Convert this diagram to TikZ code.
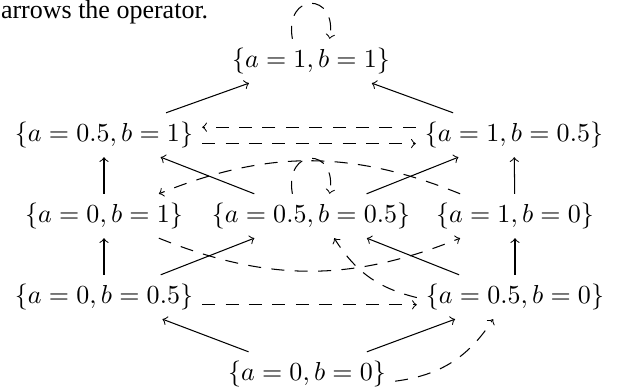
\documentclass[tikz,border=0pt]{standalone}
\usepackage{fontspec}
\newfontfamily\capfont{Liberation Serif}
\begin{document}
\begin{tikzpicture}[x=0.3846pt,y=0.3846pt,
  hasse/.style={->},
  op/.style={->,dash pattern=on 5pt off 4pt},
  selfloop/.style={op,out=100,in=80,looseness=3.3}]
\useasboundingbox (0,0) rectangle (625,390);
\node[anchor=base west,font=\capfont,inner sep=0pt] (cap) at (0.5,371) {arrows the operator.};
\node (n11) at (311,329) {$\{a=1,b=1\}$};
\node (n51) at (104,255) {$\{a=0.5,b=1\}$};
\node (n15) at (514,255) {$\{a=1,b=0.5\}$};
\node (n01) at (104,174) {$\{a=0,b=1\}$};
\node (n55) at (311,174) {$\{a=0.5,b=0.5\}$};
\node (n10) at (515,174) {$\{a=1,b=0\}$};
\node (n05) at (104,93) {$\{a=0,b=0.5\}$};
\node (n50) at (515,93) {$\{a=0.5,b=0\}$};
\node (n00) at (307,16) {$\{a=0,b=0\}$};
% order edges
\draw[hasse] (n51) -- (n11);
\draw[hasse] (n15) -- (n11);
\draw[hasse] (n01) -- (n51);
\draw[hasse] (n55) -- (n51);
\draw[hasse] (n55) -- (n15);
\draw[hasse] (n10) -- (n15);
\draw[hasse] (n05) -- (n01);
\draw[hasse] (n05) -- (n55);
\draw[hasse] (n50) -- (n55);
\draw[hasse] (n50) -- (n10);
\draw[hasse] (n00) -- (n05);
\draw[hasse] (n00) -- (n50);
% operator
\draw[selfloop] (n11.130) to (n11.50);
\draw[selfloop] (n55.130) to (n55.50);
\draw[op] ([yshift=3pt]n15.west) -- ([yshift=3pt]n51.east);
\draw[op] ([yshift=-3.3pt]n51.east) -- ([yshift=-3.3pt]n15.west);
\draw[op] ([yshift=-3pt]n05.east) -- ([yshift=-3pt]n50.west);
\draw[op] (n10) to[bend right=22] (n01);
\draw[op] (n01) to[bend right=22] (n10);
\draw[op] (n50) to[bend left=22] (n55);
\draw[op] (n00) to[bend right=25] (n50);
\end{tikzpicture}
\end{document}
